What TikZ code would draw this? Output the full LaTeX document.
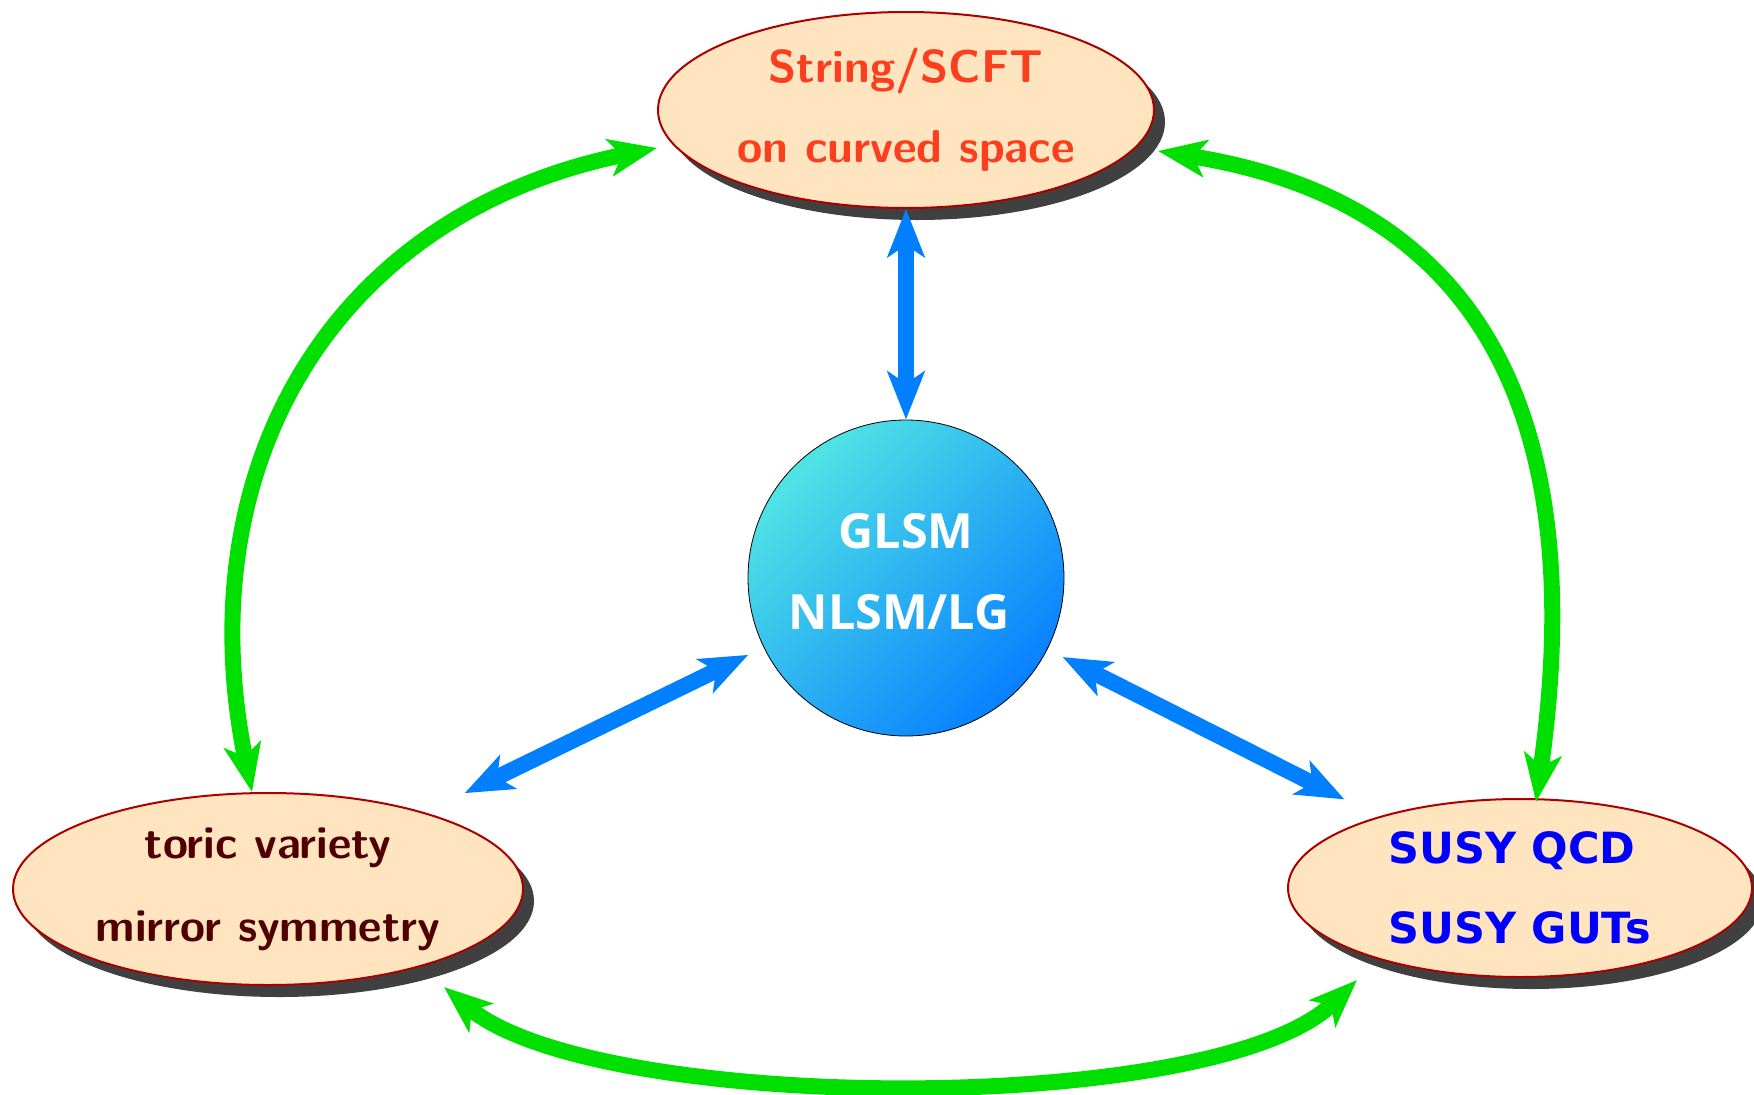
\documentclass[tikz,border=0pt]{standalone}
\usepackage{fontspec}
\newfontfamily\dvsans{DejaVu Sans}
\newfontfamily\osans{Open Sans}
\usetikzlibrary{shapes.geometric,arrows.meta,calc,shadows}
\definecolor{ellfill}{RGB}{255,228,192}
\definecolor{ellline}{RGB}{170,0,0}
\definecolor{topred}{RGB}{250,62,30}
\definecolor{darkmaroon}{RGB}{80,0,0}
\definecolor{arrgreen}{RGB}{0,224,0}
\definecolor{arrblue}{RGB}{0,128,255}
\definecolor{circlight}{RGB}{80,228,228}
\definecolor{circdark}{RGB}{8,128,255}
\definecolor{shadowgray}{RGB}{64,64,64}
\begin{document}
\begin{tikzpicture}[x=1pt,y=-1pt,
  ell/.style={ellipse, draw=ellline, line width=2pt, fill=ellfill, inner sep=0pt,
    drop shadow={shadow xshift=11pt, shadow yshift=-12pt, fill=shadowgray, opacity=1}},
  tip/.tip={Stealth[length=48pt,width=37pt,inset=12pt]},
  bluearrow/.style={line width=16pt, draw=arrblue, tip-tip},
  greenarrow/.style={line width=16pt, draw=arrgreen, tip-tip}
]
\useasboundingbox (0,0) rectangle (1754,1095);

\node[ell, minimum width=496pt, minimum height=196pt, align=center, text=topred,
  font=\sffamily\bfseries\fontsize{46}{80}\selectfont] (T) at (906,110)
  {String/SCFT\\on curved space};

\node[ell, minimum width=510pt, minimum height=192pt, align=center, text=darkmaroon,
  font=\sffamily\bfseries\fontsize{45.5}{83}\selectfont] (L) at (268,889)
  {toric variety\\mirror symmetry};

\node[ell, minimum width=464pt, minimum height=178pt, align=left, text=blue,
  font=\dvsans\bfseries\fontsize{43}{80.5}\selectfont] (R) at (1520,888)
  {SUSY QCD\\SUSY GUTs};

\node[circle, draw=black, line width=0.8pt, minimum size=316pt, inner sep=0pt,
  top color=circlight, bottom color=circdark, shading angle=45,
  align=center, text=white, font=\osans\bfseries\fontsize{48.5}{81}\selectfont] (C) at (906,578)
  {GLSM\\NLSM/LG\kern14pt\rule[-14pt]{0pt}{0pt}};

\draw[bluearrow] (T) -- (C);
\draw[bluearrow, shorten <=44pt, shorten >=17pt] (L) -- (C);
\draw[bluearrow, shorten <=17pt, shorten >=38pt] (C) -- (R);

\coordinate (gL1) at ($(L)+(-16,-97)$);
\coordinate (gT1) at ($(T)+(-249,38)$);
\coordinate (gR1) at ($(R)+(16,-86)$);
\coordinate (gT2) at ($(T)+(252,41)$);
\coordinate (gL2) at ($(L)+(176,98)$);
\coordinate (gR2) at ($(R)+(-163,92)$);

\draw[greenarrow] (gL1) .. controls +(-66,-325) and +(-325,66) .. (gT1);
\draw[greenarrow] (gR1) .. controls +(54,-380) and +(326,51.5) .. (gT2);
\draw[greenarrow] (gL2) .. controls +(152,127) and +(-142,138) .. (gR2);
\end{tikzpicture}
\end{document}
